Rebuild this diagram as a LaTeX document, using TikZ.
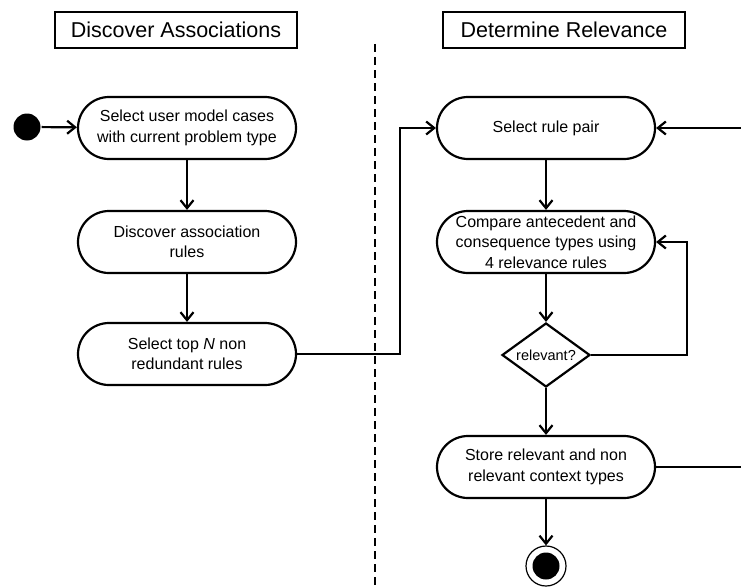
\documentclass[tikz,border=0pt]{standalone}
\usepackage{fontspec}
\setmainfont{Liberation Sans}
\usetikzlibrary{arrows.meta,shapes.geometric}

\tikzset{
  activity/.style={draw, rectangle, rounded corners=31pt, minimum width=218pt,
    minimum height=62pt, align=center, inner sep=2pt,
    font=\fontsize{16}{20.5}\selectfont},
  lanetitle/.style={draw, line width=1.6pt, minimum width=242pt, minimum height=36pt,
    inner sep=0pt, font=\fontsize{21.5}{24}\selectfont},
  decision/.style={draw, diamond, minimum width=88pt, minimum height=64pt, inner sep=0pt},
  flow/.style={->},
}

\begin{document}
\begin{tikzpicture}[x=1pt, y=-1pt, line width=2.2pt,
  >={Straight Barb[length=8pt,width=13pt]}]
\useasboundingbox (0,0) rectangle (741,586);

% swimlane titles and separator
\node[lanetitle] (laneA) at (176,30) {Discover Associations};
\node[lanetitle] (laneB) at (564,30) {Determine Relevance};
\draw[line width=2pt, dash pattern=on 8pt off 5pt] (375,44) -- (375,586);

% left lane
\node[circle, fill=black, inner sep=0pt, minimum size=27pt] (start) at (27,127) {};
\node[activity] (n1) at (187,128) {Select user model cases\\with current problem type};
\node[activity] (n2) at (187,242) {Discover association\\rules};
\node[activity] (n3) at (187,354) {Select top \textit{N} non\\redundant rules};

% right lane
\node[activity] (r1) at (546,128) {Select rule pair};
\node[activity] (r2) at (546,242) {Compare antecedent and\\consequence types using\\4 relevance rules};
\node[decision] (dec) at (546,355) {};
\node[font=\fontsize{14.5}{20}\selectfont, inner sep=0pt] (declabel) at (dec) {relevant?};
\node[activity] (r3) at (546,467) {Store relevant and non\\relevant context types};
\node[circle, draw, line width=1.2pt, inner sep=0pt, minimum size=40pt] (finish) at (546,566) {};
\node[circle, fill=black, inner sep=0pt, minimum size=27pt] (finishdot) at (finish) {};

\coordinate (jA) at (400,0);
\coordinate (jB) at (687,0);
\coordinate (jC) at (746,0);

% connectors
\draw[flow] (start) -- (n1);
\draw[flow] (n1) -- (n2);
\draw[flow] (n2) -- (n3);
\draw[flow] (n3.east) -- (n3.east -| jA) |- (r1.west);
\draw[flow] (r1) -- (r2);
\draw[flow] (r2) -- (dec);
\draw[flow] (dec.east) -- (dec.east -| jB) |- (r2.east);
\draw[flow] (dec) -- (r3);
\draw[flow] (r3.east) -- (r3.east -| jC) |- (r1.east);
\draw[flow] (r3) -- (finish);
\end{tikzpicture}
\end{document}
